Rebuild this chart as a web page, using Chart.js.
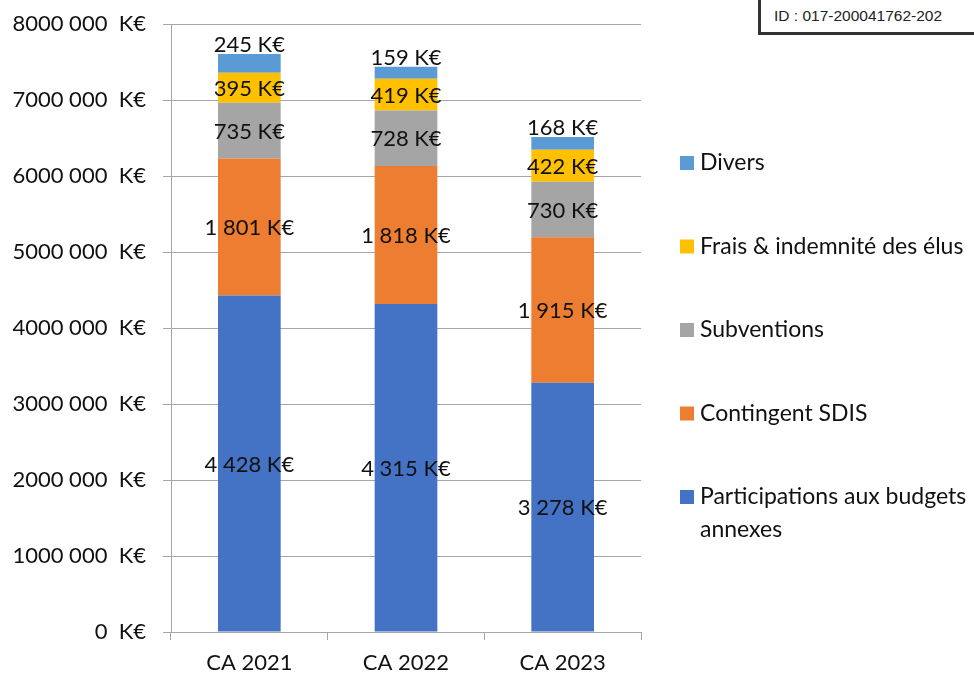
<!DOCTYPE html>
<html lang="fr">
<head>
<meta charset="utf-8">
<title>Dépenses</title>
<script src="https://cdn.jsdelivr.net/npm/chart.js@4.4.1/dist/chart.umd.min.js"></script>
<style>
  html, body { margin: 0; padding: 0; background: #fff; }
  #wrap { position: relative; width: 974px; height: 678px; }
  #idBox {
    position: absolute; left: 758px; top: -3px; width: 230px; height: 38px;
    border-left: 3px solid #333; border-bottom: 3px solid #333; background: #fff;
    font: 15.5px "Liberation Sans", Arial, sans-serif; color: #222;
    padding: 10px 0 0 13px; box-sizing: border-box; white-space: nowrap; overflow: hidden;
  }
</style>
</head>
<body>
<div id="wrap">
  <canvas id="chart" width="974" height="678"></canvas>
  <div id="idBox">ID : 017-200041762-202</div>
</div>
<script>
(function () {
    // ---------- données (K€) ----------
    const categories = ['CA 2021', 'CA 2022', 'CA 2023'];
    const participations = [4428, 4315, 3278];
    const contingentSdis = [1801, 1818, 1915];
    const subventions = [735, 728, 730];
    const fraisElus = [395, 419, 422];
    const divers = [245, 159, 168];
    const yTicks = [0, 1000000, 2000000, 3000000, 4000000, 5000000, 6000000, 7000000, 8000000];

    const FONT = 'Lato, "Open Sans", sans-serif';

    // valeurs saisies en K€, axe gradué en "K€" x 1000 comme dans l'original
    const toAxis = arr => arr.map(v => v * 1000);
    const fmtK = v => String(v).replace(/\B(?=(\d{3})+(?!\d))/g, ' ') + ' K€';
    const fmtTick = v => (v === 0 ? '0' : (v / 1000) + ' 000') + '  K€';

    const series = [
        { label: ['Participations aux budgets', 'annexes'], raw: participations, color: '#4472C4' },
        { label: 'Contingent SDIS', raw: contingentSdis, color: '#ED7D31' },
        { label: 'Subventions', raw: subventions, color: '#A5A5A5' },
        { label: 'Frais & indemnité des élus', raw: fraisElus, color: '#FFC000' },
        { label: 'Divers', raw: divers, color: '#5B9BD5' },
    ];

    const datasets = series.map(s => ({
        label: s.label,
        raw: s.raw,
        data: toAxis(s.raw),
        backgroundColor: s.color,
        borderWidth: 0,
        barPercentage: 0.4,
        categoryPercentage: 1,
    }));

    // ---------- étiquettes de données ----------
    const valueLabels = {
        id: 'valueLabels',
        afterDatasetsDraw(chart) {
            const ctx = chart.ctx;
            ctx.save();
            ctx.font = '22px ' + FONT;
            ctx.fillStyle = '#111';
            ctx.textAlign = 'center';
            ctx.textBaseline = 'middle';
            const last = chart.data.datasets.length - 1;
            chart.data.datasets.forEach((ds, di) => {
                chart.getDatasetMeta(di).data.forEach((bar, i) => {
                    const { x, y, base } = bar.getProps(['x', 'y', 'base'], true);
                    const ty = di === last ? y - 9 : (y + base) / 2 + 1;
                    ctx.fillText(fmtK(ds.raw[i]), x, ty);
                });
            });
            ctx.restore();
        }
    };

    // ---------- légende à droite ----------
    const sideLegend = {
        id: 'sideLegend',
        afterDraw(chart) {
            const ctx = chart.ctx;
            const x0 = chart.chartArea.right + 39;
            const yStart = 163, step = 83.5;
            ctx.save();
            ctx.font = '23px ' + FONT;
            ctx.fillStyle = '#111';
            ctx.textBaseline = 'middle';
            ctx.textAlign = 'left';
            const items = chart.data.datasets.slice().reverse();
            items.forEach((ds, k) => {
                const cy = yStart + k * step;
                ctx.fillStyle = ds.backgroundColor;
                ctx.fillRect(x0, cy - 7, 14, 14);
                ctx.fillStyle = '#111';
                const lines = Array.isArray(ds.label) ? ds.label : [ds.label];
                lines.forEach((t, j) => ctx.fillText(t, x0 + 20, cy + j * 33));
            });
            ctx.restore();
        }
    };

    new Chart(document.getElementById('chart'), {
        type: 'bar',
        data: { labels: categories, datasets },
        plugins: [valueLabels, sideLegend],
        options: {
            responsive: false,
            animation: false,
            layout: { padding: { top: 24, right: 333, left: 0, bottom: 0 } },
            plugins: { legend: { display: false }, tooltip: { enabled: false } },
            scales: {
                x: {
                    stacked: true,
                    grid: { drawOnChartArea: false, drawTicks: true, tickLength: 8, color: '#A6A6A6', offset: true },
                    border: { color: '#A6A6A6' },
                    ticks: { font: { family: FONT, size: 22 }, color: '#111', padding: 10 },
                    afterFit(scale) { scale.height = 46; }
                },
                y: {
                    stacked: true,
                    min: 0, max: 8000000,
                    afterBuildTicks(scale) { scale.ticks = yTicks.map(v => ({ value: v })); },
                    grid: { color: '#A6A6A6', tickLength: 8 },
                    border: { color: '#A6A6A6' },
                    ticks: { font: { family: FONT, size: 22 }, color: '#111', padding: 17, callback: v => fmtTick(v) },
                    afterFit(scale) { scale.width = 171; scale.paddingTop = 0; scale.paddingBottom = 0; }
                }
            }
        }
    });
})();
</script>
</body>
</html>
